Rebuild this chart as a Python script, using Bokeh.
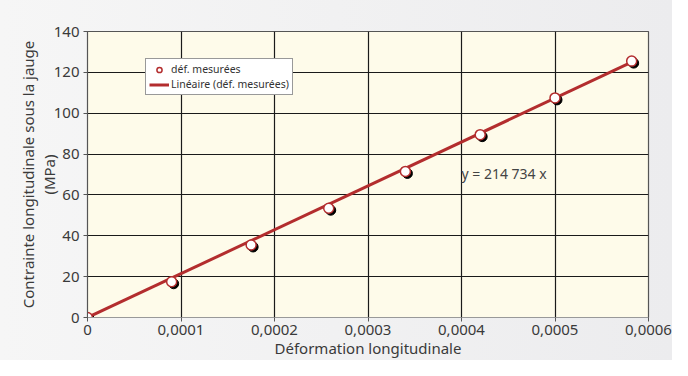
from bokeh.plotting import figure
from bokeh.models import Range1d, FixedTicker, Label, Legend, LegendItem, ColumnDataSource
from bokeh.embed import file_html
from bokeh.resources import INLINE

# Data
strain = [0.0, 0.00009, 0.000175, 0.000258, 0.00034, 0.00042, 0.0005, 0.000582]
stress = [0.0, 17.5, 35.5, 53.5, 71.5, 89.5, 107.5, 125.5]
slope = 214734
fit_x = [0.0, 0.000582]
fit_y = [slope * v for v in fit_x]
x_ticks = [0.0, 0.0001, 0.0002, 0.0003, 0.0004, 0.0005, 0.0006]
x_tick_labels = ["0", "0,0001", "0,0002", "0,0003", "0,0004", "0,0005", "0,0006"]
y_ticks = [0, 20, 40, 60, 80, 100, 120, 140]
eq_text = "y = 214 734 x"
eq_pos = (0.0004, 70.5)

FONT = "Noto Sans"
TXT = "#3a3a3a"
RED = "#b32d2e"

X0, X1 = 0.0, 0.0006
Y0, Y1 = 0.0, 140.0
W, H = 672, 360
BL, BR, BT, BB = 87, 24, 31, 42
FW, FH = W - BL - BR, H - BT - BB

p = figure(width=W, height=H, output_backend="svg", toolbar_location=None,
           x_range=Range1d(X0, X1), y_range=Range1d(Y0, Y1),
           min_border_left=BL, min_border_right=BR, min_border_top=BT, min_border_bottom=BB)

p.background_fill_color = "#fefbea"
p.border_fill_color = "#f1f1f2"
p.border_fill_alpha = 0.0
p.styles = {"background": "linear-gradient(to right, #f6f6f6, #ececee)"}
p.outline_line_color = "#555555"
p.outline_line_width = 1.2

# shadow ranges (offset 2px right, 2px down)
dx = 2.0 * (X1 - X0) / FW
dy = 2.0 * (Y1 - Y0) / FH
p.extra_x_ranges = {"sx": Range1d(X0 - dx, X1 - dx)}
p.extra_y_ranges = {"sy": Range1d(Y0 + dy, Y1 + dy)}

for ax in (p.xaxis[0], p.yaxis[0]):
    ax.major_label_text_font = FONT
    ax.major_label_text_font_size = "15px"
    ax.major_label_text_color = TXT
    ax.axis_label_text_font = FONT
    ax.axis_label_text_font_size = "15px"
    ax.axis_label_text_font_style = "normal"
    ax.axis_label_text_color = TXT
    ax.axis_label_text_line_height = 1.05
    ax.axis_line_color = "#555555"
    ax.major_tick_line_color = "#555555"
    ax.major_tick_out = 4
    ax.major_tick_in = 0
    ax.minor_tick_out = 0
    ax.minor_tick_in = 0

p.xaxis.ticker = FixedTicker(ticks=x_ticks)
p.xaxis.major_label_overrides = {t: l for t, l in zip(x_ticks, x_tick_labels)}
p.xaxis.axis_label = "Déformation longitudinale"
p.xaxis.major_label_standoff = 3
p.xaxis.axis_label_standoff = 0
p.xaxis.axis_line_color = "#999999"

p.yaxis.ticker = FixedTicker(ticks=y_ticks)
p.yaxis.axis_label = "Contrainte longitudinale sous la jauge\n(MPa)"
p.yaxis.major_label_standoff = 4
p.yaxis.axis_label_standoff = -8

p.xgrid.ticker = FixedTicker(ticks=x_ticks)
p.ygrid.ticker = FixedTicker(ticks=y_ticks)
p.grid.grid_line_color = "#1a1a1a"
p.grid.grid_line_width = 1.2

src = ColumnDataSource(dict(x=strain, y=stress))

line_r = p.line(fit_x, fit_y, line_color=RED, line_width=3)
p.scatter("x", "y", source=src, size=10, fill_color="black", line_color="black",
          x_range_name="sx", y_range_name="sy")
pts_r = p.scatter("x", "y", source=src, size=10, fill_color="white", line_color=RED,
                  line_width=1.5)

p.add_layout(Label(x=eq_pos[0], y=eq_pos[1], text=eq_text, text_font=FONT,
                   text_font_size="14px", text_color="#444444", text_baseline="middle"))

legend = Legend(items=[LegendItem(label="déf. mesurées", renderers=[pts_r]),
                       LegendItem(label="Linéaire (déf. mesurées)", renderers=[line_r])],
                location=(58, FH - 25 - 40))
legend.label_text_font = FONT
legend.label_text_font_size = "10.5px"
legend.label_text_color = "#333333"
legend.glyph_width = 20
legend.glyph_height = 13
legend.label_height = 13
legend.label_standoff = 2
legend.spacing = 1
legend.padding = 3
legend.margin = 0
legend.border_line_color = "#333333"
legend.border_line_width = 1
legend.background_fill_color = "white"
legend.background_fill_alpha = 1.0
p.add_layout(legend, "center")

open("out.html", "w").write(file_html(p, INLINE))
